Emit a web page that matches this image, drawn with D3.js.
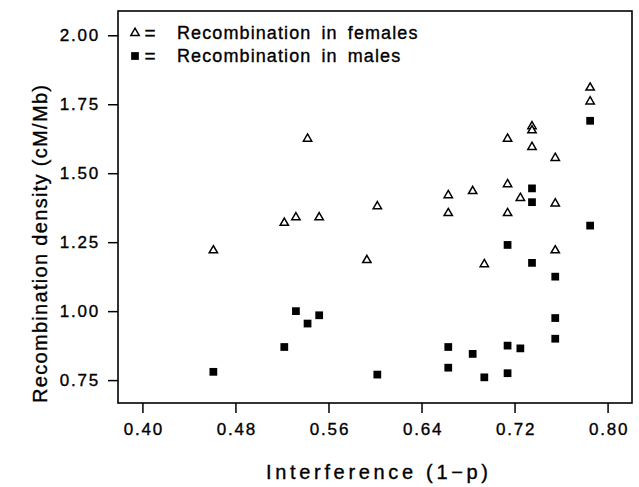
<!DOCTYPE html>
<html>
<head>
<meta charset="utf-8">
<script src="https://cdn.jsdelivr.net/npm/d3@7"></script>
<style>
  body { margin: 0; background: #fff; }
  text { font-family: "Liberation Sans", Arial, sans-serif; fill: #000; stroke: #000; stroke-width: 0.35px; }
</style>
</head>
<body>
<div id="chart"></div>
<script>
// interference values (1-p) and recombination density
let femaleX = [0.461, 0.522, 0.532, 0.542, 0.552, 0.593, 0.602, 0.663, 0.663, 0.684, 0.694,
               0.714, 0.714, 0.714, 0.725, 0.735, 0.735, 0.735, 0.755, 0.755, 0.755, 0.785, 0.785];
let femaleY = [1.22, 1.32, 1.34, 1.625, 1.34, 1.185, 1.38, 1.42, 1.355, 1.435, 1.17,
               1.625, 1.46, 1.355, 1.41, 1.67, 1.655, 1.595, 1.555, 1.39, 1.22, 1.81, 1.76];
let maleX = [0.461, 0.522, 0.532, 0.542, 0.552, 0.602, 0.663, 0.663, 0.684, 0.694, 0.714,
             0.714, 0.714, 0.725, 0.735, 0.735, 0.735, 0.755, 0.755, 0.755, 0.785, 0.785];
let maleY = [0.78, 0.87, 1.00, 0.955, 0.985, 0.77, 0.87, 0.795, 0.845, 0.76, 1.24,
             0.875, 0.775, 0.865, 1.445, 1.395, 1.175, 1.125, 0.975, 0.90, 1.69, 1.31];

let xTicks = [0.40, 0.48, 0.56, 0.64, 0.72, 0.80];
let yTicks = [0.75, 1.00, 1.25, 1.50, 1.75, 2.00];
let legendLabels = ["Recombination in females", "Recombination in males"];

let svgWidth = 639, svgHeight = 487;
let margin = { top: 11, right: 7, bottom: 84, left: 118 };
let width = svgWidth - margin.left - margin.right;
let height = svgHeight - margin.top - margin.bottom;

let svg = d3.select("#chart")
    .append("svg")
    .attr("width", svgWidth)
    .attr("height", svgHeight);

let g = svg.append("g")
    .attr("transform", `translate(${margin.left}, ${margin.top})`);

// scales
let x = d3.scaleLinear().domain([0.379, 0.821]).range([0, width]);
let y = d3.scaleLinear().domain([0.667, 2.088]).range([height, 0]);

// axes
let bottomAxis = d3.axisBottom(x).tickValues(xTicks).tickSize(10).tickPadding(10)
    .tickFormat(d3.format(".2f"));
let leftAxis = d3.axisLeft(y).tickValues(yTicks).tickSize(10).tickPadding(8)
    .tickFormat(d3.format(".2f"));

let xAxisG = g.append("g")
    .attr("transform", `translate(0, ${height})`)
    .call(bottomAxis);
let yAxisG = g.append("g").call(leftAxis);

[xAxisG, yAxisG].forEach(a => {
    a.select(".domain").remove();
    a.selectAll("line").attr("stroke", "#000").attr("stroke-width", 1.5);
    a.selectAll("text")
        .attr("font-size", 17)
        .attr("letter-spacing", 1.8)
        .attr("fill", "#000");
});
xAxisG.selectAll("text").attr("dx", 1);

// frame
g.append("rect")
    .attr("x", 0).attr("y", 0)
    .attr("width", width).attr("height", height)
    .attr("fill", "none")
    .attr("stroke", "#000")
    .attr("stroke-width", 1.6);

// female points: open triangles
let tri = d3.symbol().type(d3.symbolTriangle).size(30);
g.selectAll(".female")
    .data(femaleX.map((d, i) => [d, femaleY[i]]))
    .join("path")
    .attr("class", "female")
    .attr("d", tri)
    .attr("transform", d => `translate(${x(d[0])}, ${y(d[1])})`)
    .attr("fill", "#fff")
    .attr("stroke", "#000")
    .attr("stroke-width", 1.5);

// male points: filled squares
let sq = d3.symbol().type(d3.symbolSquare).size(60);
g.selectAll(".male")
    .data(maleX.map((d, i) => [d, maleY[i]]))
    .join("path")
    .attr("class", "male")
    .attr("d", sq)
    .attr("transform", d => `translate(${x(d[0])}, ${y(d[1])})`)
    .attr("fill", "#000");

// legend
let legend = svg.append("g").attr("transform", "translate(135, 33)");
legend.append("path")
    .attr("d", tri)
    .attr("fill", "#fff").attr("stroke", "#000").attr("stroke-width", 1.5);
legend.append("path")
    .attr("d", sq)
    .attr("transform", "translate(0, 23)")
    .attr("fill", "#000");
legend.selectAll(".eq")
    .data(legendLabels)
    .join("text")
    .attr("class", "eq")
    .attr("x", 15)
    .attr("y", (d, i) => 6 + i * 23)
    .attr("text-anchor", "middle")
    .attr("font-size", 19)
    .text("=");
legend.selectAll(".leg")
    .data(legendLabels)
    .join("text")
    .attr("class", "leg")
    .attr("x", 42)
    .attr("y", (d, i) => 6 + i * 23)
    .attr("font-size", 18)
    .attr("letter-spacing", 1.1)
    .attr("word-spacing", 4)
    .text(d => d);

// axis titles
svg.append("text")
    .attr("x", 266).attr("y", 479)
    .attr("font-size", 20)
    .attr("textLength", 222)
    .attr("lengthAdjust", "spacing")
    .text("Interference (1\u2212p)");

svg.append("text")
    .attr("transform", "translate(47, 403) rotate(-90)")
    .attr("font-size", 20)
    .attr("textLength", 318)
    .attr("lengthAdjust", "spacing")
    .text("Recombination density (cM/Mb)");
</script>
</body>
</html>
